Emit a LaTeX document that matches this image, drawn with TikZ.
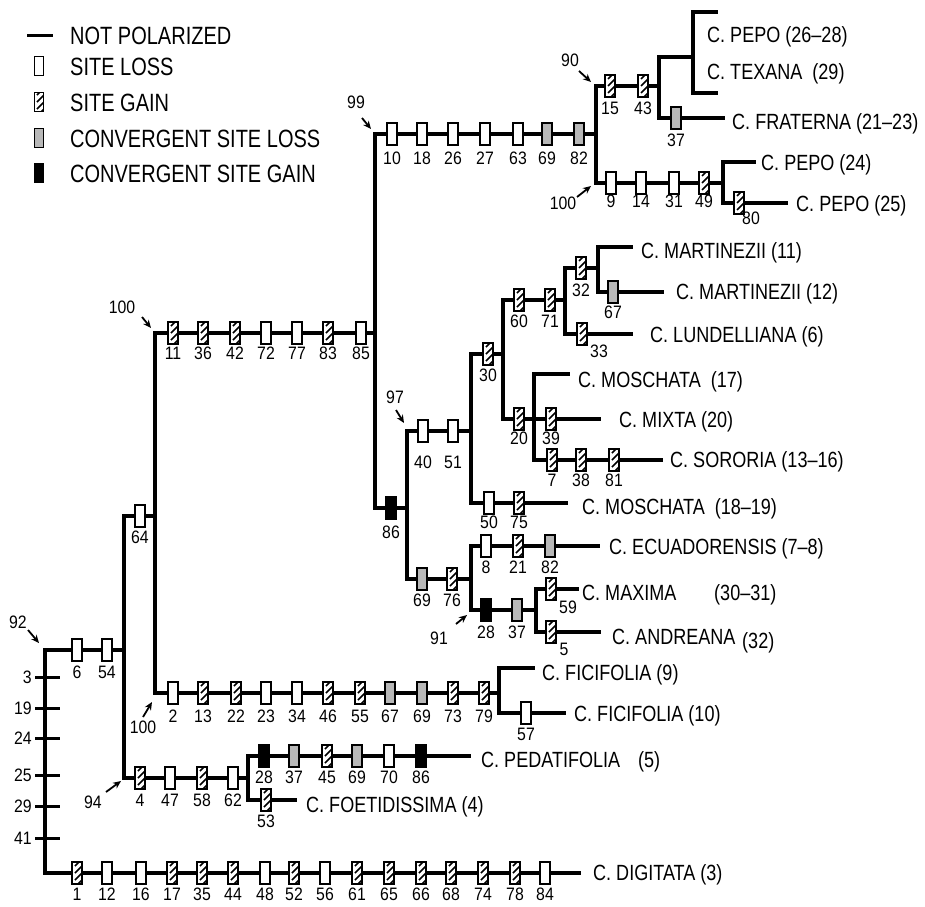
\documentclass[tikz,border=0pt]{standalone}
\usepackage{fontspec}
\setmainfont{Liberation Sans}
\newfontfamily\legfam{Liberation Sans}[FakeStretch=0.8]
\newfontfamily\taxfam{Liberation Sans}[FakeStretch=0.82]
\newfontfamily\numfam{Liberation Sans}[FakeStretch=0.88]
\newcommand\numf{\numfam\fontsize{18}{18}\selectfont}
\newcommand\taxf{\taxfam\fontsize{22}{22}\selectfont}
\newcommand\legf{\legfam\fontsize{25}{25}\selectfont}
\usetikzlibrary{arrows.meta}
\newcommand\mkbox[6]{\node[#1] (#2) at (#3,#4) {}; \node[num] (#2t) at (#3,#5) {#6};}
\begin{document}
\begin{tikzpicture}[x=1pt,y=-1pt,
  br/.style={line width=3.2pt,line cap=rect},
  bx/.style={draw,line width=1.3pt,minimum width=10pt,minimum height=22pt,inner sep=0pt,outer sep=0pt},
  loss/.style={bx,fill=white},
  gain/.style={bx,fill=white,path picture={\foreach \c in {0,7,...,42}\draw[line width=1.5pt,shift={(path picture bounding box.south west)}] (-2,14-\c) -- ++(24,-24);}},
  closs/.style={bx,fill=black!28},
  cgain/.style={bx,fill=black},
  lb/.style={minimum width=9pt,minimum height=19pt},
  num/.style={font=\numf,inner sep=0pt},
  tax/.style={font=\taxf,inner sep=0pt,anchor=base west},
  leg/.style={font=\legf,inner sep=0pt,anchor=base west},
  suparr/.style={-{Stealth[length=8pt,width=7pt]},line width=1.8pt}]
\useasboundingbox (0,0) rectangle (925,906);

% ---------- legend ----------
\coordinate (lg1) at (27,35); \coordinate (lg2) at (53,35);
\draw[line width=3pt] (lg1) -- (lg2);
\node[loss,lb] (lgb2) at (39,66) {};
\node[gain,lb] (lgb3) at (39,102) {};
\node[closs,lb] (lgb4) at (39,138) {};
\node[cgain,lb] (lgb5) at (39,173) {};
\node[leg] (lgt1) at (70,44) {NOT POLARIZED};
\node[leg] (lgt2) at (70,75) {SITE LOSS};
\node[leg] (lgt3) at (70,111) {SITE GAIN};
\node[leg] (lgt4) at (70,147) {CONVERGENT SITE LOSS};
\node[leg] (lgt5) at (70,182) {CONVERGENT SITE GAIN};

% ---------- branches ----------
\coordinate (r92) at (45,650); \coordinate (rbot) at (45,873); \coordinate (dige) at (579,873);
\draw[br] (r92) -- (rbot) -- (dige);
\coordinate (v1t) at (124,516); \coordinate (v1m) at (124,650); \coordinate (v1b) at (124,778);
\draw[br] (r92) -- (v1m); \draw[br] (v1t) -- (v1b);
\coordinate (v2t) at (155,333); \coordinate (v2m) at (155,516); \coordinate (v2b) at (155,693);
\draw[br] (v1t) -- (v2m); \draw[br] (v2t) -- (v2b);
\coordinate (v3t) at (248,756); \coordinate (v3m) at (248,778); \coordinate (v3b) at (248,800);
\draw[br] (v1b) -- (v3m); \draw[br] (v3t) -- (v3b);
\coordinate (pede) at (469,756); \draw[br] (v3t) -- (pede);
\coordinate (foee) at (295,800); \draw[br] (v3b) -- (foee);
\coordinate (v4t) at (499,668); \coordinate (v4m) at (499,693); \coordinate (v4b) at (499,713);
\draw[br] (v2b) -- (v4m); \draw[br] (v4t) -- (v4b);
\coordinate (f9e) at (533,668); \coordinate (f10e) at (564,713);
\draw[br] (v4t) -- (f9e); \draw[br] (v4b) -- (f10e);
\coordinate (v5t) at (375,134); \coordinate (v5m) at (375,333); \coordinate (v5b) at (375,508);
\draw[br] (v2t) -- (v5m); \draw[br] (v5t) -- (v5b);
\coordinate (v6t) at (407,431); \coordinate (v6m) at (407,508); \coordinate (v6b) at (407,579);
\draw[br] (v5b) -- (v6m); \draw[br] (v6t) -- (v6b);
\coordinate (v7t) at (596,86); \coordinate (v7m) at (596,134); \coordinate (v7b) at (596,183);
\draw[br] (v5t) -- (v7m); \draw[br] (v7t) -- (v7b);
\coordinate (v8t) at (659,57); \coordinate (v8m) at (659,86); \coordinate (v8b) at (659,118);
\draw[br] (v7t) -- (v8m); \draw[br] (v8t) -- (v8b);
\coordinate (v9t) at (693,12); \coordinate (v9m) at (693,57); \coordinate (v9b) at (693,93);
\draw[br] (v8t) -- (v9m); \draw[br] (v9t) -- (v9b);
\coordinate (pe1) at (716,12); \coordinate (pe2) at (716,93);
\draw[br] (v9t) -- (pe1); \draw[br] (v9b) -- (pe2);
\coordinate (frae) at (723,118); \draw[br] (v8b) -- (frae);
\coordinate (v10t) at (723,162); \coordinate (v10m) at (723,183); \coordinate (v10b) at (723,203);
\draw[br] (v7b) -- (v10m); \draw[br] (v10t) -- (v10b);
\coordinate (p24e) at (754,162); \coordinate (p25e) at (786,203);
\draw[br] (v10t) -- (p24e); \draw[br] (v10b) -- (p25e);
\coordinate (v11t) at (471,354); \coordinate (v11m) at (471,431); \coordinate (v11b) at (471,503);
\draw[br] (v6t) -- (v11m); \draw[br] (v11t) -- (v11b);
\coordinate (m1819e) at (566,503); \draw[br] (v11b) -- (m1819e);
\coordinate (v12t) at (503,300); \coordinate (v12m) at (503,354); \coordinate (v12b) at (503,419);
\draw[br] (v11t) -- (v12m); \draw[br] (v12t) -- (v12b);
\coordinate (v13t) at (565,268); \coordinate (v13m) at (565,300); \coordinate (v13b) at (565,334);
\draw[br] (v12t) -- (v13m); \draw[br] (v13t) -- (v13b);
\coordinate (lune) at (631,334); \draw[br] (v13b) -- (lune);
\coordinate (v14t) at (598,247); \coordinate (v14m) at (598,268); \coordinate (v14b) at (598,292);
\draw[br] (v13t) -- (v14m); \draw[br] (v14t) -- (v14b);
\coordinate (m11e) at (631,247); \coordinate (m12e) at (662,292);
\draw[br] (v14t) -- (m11e); \draw[br] (v14b) -- (m12e);
\coordinate (v15t) at (534,374); \coordinate (v15b) at (534,460); \coordinate (mixe) at (599,419);
\draw[br] (v12b) -- (mixe); \draw[br] (v15t) -- (v15b);
\coordinate (m17e) at (568,374); \coordinate (sore) at (661,460);
\draw[br] (v15t) -- (m17e); \draw[br] (v15b) -- (sore);
\coordinate (v16t) at (471,546); \coordinate (v16m) at (471,579); \coordinate (v16b) at (471,610);
\draw[br] (v6b) -- (v16m); \draw[br] (v16t) -- (v16b);
\coordinate (ecue) at (598,546); \draw[br] (v16t) -- (ecue);
\coordinate (v17t) at (536,589); \coordinate (v17m) at (536,610); \coordinate (v17b) at (536,632);
\draw[br] (v16b) -- (v17m); \draw[br] (v17t) -- (v17b);
\coordinate (maxe) at (577,589); \coordinate (ande) at (599,632);
\draw[br] (v17t) -- (maxe); \draw[br] (v17b) -- (ande);

% ---------- ticks on root ----------
\foreach \t/\y in {3/677,19/708,24/738,25/775,29/806,41/838}{
  \coordinate (tka\t) at (35,\y); \coordinate (tkb\t) at (60,\y);
  \draw[line width=3pt] (tka\t) -- (tkb\t);
  \node[num,anchor=east] (tkl\t) at (32,\y) {\t};}

% ---------- character boxes ----------
\mkbox{loss}{a1}{77}{650}{672}{6}
\mkbox{loss}{a2}{107}{650}{672}{54}
\mkbox{loss}{b1}{140}{516}{537}{64}
\mkbox{gain}{c1}{140}{778}{800}{4}
\mkbox{loss}{c2}{170}{778}{800}{47}
\mkbox{gain}{c3}{202}{778}{800}{58}
\mkbox{loss}{c4}{233}{778}{800}{62}
\mkbox{cgain}{d1}{264}{756}{777}{28}
\mkbox{closs}{d2}{294}{756}{777}{37}
\mkbox{gain}{d3}{327}{756}{777}{45}
\mkbox{closs}{d4}{357}{756}{777}{69}
\mkbox{loss}{d5}{389}{756}{777}{70}
\mkbox{cgain}{d6}{421}{756}{777}{86}
\mkbox{gain}{e1}{266}{800}{821}{53}
\mkbox{loss}{f1}{173}{693}{716}{2}
\mkbox{gain}{f2}{203}{693}{716}{13}
\mkbox{gain}{f3}{236}{693}{716}{22}
\mkbox{loss}{f4}{266}{693}{716}{23}
\mkbox{loss}{f5}{297}{693}{716}{34}
\mkbox{gain}{f6}{328}{693}{716}{46}
\mkbox{gain}{f7}{360}{693}{716}{55}
\mkbox{closs}{f8}{390}{693}{716}{67}
\mkbox{closs}{f9}{422}{693}{716}{69}
\mkbox{gain}{f10}{453}{693}{716}{73}
\mkbox{gain}{f11}{484}{693}{716}{79}
\mkbox{loss}{g1}{526}{713}{734}{57}
\mkbox{gain}{h1}{77}{873}{894}{1}
\mkbox{loss}{h2}{107}{873}{894}{12}
\mkbox{loss}{h3}{141}{873}{894}{16}
\mkbox{gain}{h4}{172}{873}{894}{17}
\mkbox{gain}{h5}{202}{873}{894}{35}
\mkbox{gain}{h6}{233}{873}{894}{44}
\mkbox{loss}{h7}{265}{873}{894}{48}
\mkbox{gain}{h8}{294}{873}{894}{52}
\mkbox{loss}{h9}{325}{873}{894}{56}
\mkbox{gain}{h10}{357}{873}{894}{61}
\mkbox{gain}{h11}{389}{873}{894}{65}
\mkbox{gain}{h12}{421}{873}{894}{66}
\mkbox{gain}{h13}{451}{873}{894}{68}
\mkbox{gain}{h14}{483}{873}{894}{74}
\mkbox{gain}{h15}{515}{873}{894}{78}
\mkbox{loss}{h16}{545}{873}{894}{84}
\mkbox{gain}{i1}{173}{333}{353}{11}
\mkbox{gain}{i2}{203}{333}{353}{36}
\mkbox{gain}{i3}{235}{333}{353}{42}
\mkbox{loss}{i4}{266}{333}{353}{72}
\mkbox{loss}{i5}{297}{333}{353}{77}
\mkbox{gain}{i6}{328}{333}{353}{83}
\mkbox{loss}{i7}{361}{333}{353}{85}
\mkbox{cgain}{j1}{391}{508}{532}{86}
\mkbox{loss}{k1}{392}{134}{158}{10}
\mkbox{loss}{k2}{422}{134}{158}{18}
\mkbox{loss}{k3}{453}{134}{158}{26}
\mkbox{loss}{k4}{485}{134}{158}{27}
\mkbox{loss}{k5}{518}{134}{158}{63}
\mkbox{closs}{k6}{547}{134}{158}{69}
\mkbox{closs}{k7}{579}{134}{158}{82}
\mkbox{gain}{l1}{610}{86}{108}{15}
\mkbox{gain}{l2}{643}{86}{108}{43}
\mkbox{closs}{l3}{676}{118}{140}{37}
\mkbox{loss}{m1}{611}{183}{201}{9}
\mkbox{loss}{m2}{641}{183}{201}{14}
\mkbox{loss}{m3}{674}{183}{201}{31}
\mkbox{gain}{m4}{704}{183}{201}{49}
\mkbox{gain}{m5}{739}{203}{218}{}
\node[num] (m5l) at (751,218) {80};
\mkbox{loss}{n1}{423}{431}{462}{40}
\mkbox{loss}{n2}{453}{431}{462}{51}
\mkbox{gain}{n3}{488}{354}{375}{30}
\mkbox{gain}{n4}{519}{300}{321}{60}
\mkbox{gain}{n5}{550}{300}{321}{71}
\mkbox{gain}{n6}{581}{268}{290}{32}
\mkbox{closs}{n7}{613}{292}{312}{67}
\mkbox{gain}{n8}{582}{334}{351}{}
\node[num] (n8l) at (599,351) {33};
\mkbox{gain}{o1}{519}{419}{438}{20}
\mkbox{gain}{o2}{551}{419}{438}{39}
\mkbox{gain}{o3}{552}{460}{480}{7}
\mkbox{gain}{o4}{581}{460}{480}{38}
\mkbox{gain}{o5}{614}{460}{480}{81}
\mkbox{loss}{o6}{489}{503}{522}{50}
\mkbox{gain}{o7}{519}{503}{522}{75}
\mkbox{loss}{p1}{486}{546}{567}{8}
\mkbox{gain}{p2}{518}{546}{567}{21}
\mkbox{closs}{p3}{550}{546}{567}{82}
\mkbox{closs}{p4}{422}{579}{600}{69}
\mkbox{gain}{p5}{452}{579}{600}{76}
\mkbox{cgain}{p6}{486}{610}{632}{28}
\mkbox{closs}{p7}{517}{610}{632}{37}
\mkbox{gain}{p8}{551}{589}{607}{}
\node[num] (p8l) at (568,607) {59};
\mkbox{gain}{p9}{551}{632}{649}{}
\node[num] (p9l) at (564,649) {5};

% ---------- support values ----------
\node[num] (s92) at (18,622) {92};
\coordinate (s92a) at (28,630); \coordinate (s92b) at (39,643); \draw[suparr] (s92a) -- (s92b);
\node[num] (s94) at (93,802) {94};
\coordinate (s94a) at (106,792); \coordinate (s94b) at (121,781); \draw[suparr] (s94a) -- (s94b);
\node[num] (s100a) at (143,727) {100};
\coordinate (s100aa) at (143,717); \coordinate (s100ab) at (152,702); \draw[suparr] (s100aa) -- (s100ab);
\node[num] (s100b) at (122,307) {100};
\coordinate (s100ba) at (142,317); \coordinate (s100bb) at (151,328); \draw[suparr] (s100ba) -- (s100bb);
\node[num] (s99) at (356,102) {99};
\coordinate (s99a) at (362,118); \coordinate (s99b) at (371,129); \draw[suparr] (s99a) -- (s99b);
\node[num] (s97) at (395,397) {97};
\coordinate (s97a) at (396,410); \coordinate (s97b) at (404,423); \draw[suparr] (s97a) -- (s97b);
\node[num] (s91) at (439,638) {91};
\coordinate (s91a) at (456,624); \coordinate (s91b) at (467,615); \draw[suparr] (s91a) -- (s91b);
\node[num] (s90) at (570,60) {90};
\coordinate (s90a) at (579,71); \coordinate (s90b) at (591,82); \draw[suparr] (s90a) -- (s90b);
\node[num] (s100c) at (563,203) {100};
\coordinate (s100ca) at (577,197); \coordinate (s100cb) at (591,186); \draw[suparr] (s100ca) -- (s100cb);

% ---------- taxa ----------
\node[tax] (t1) at (707,42.5) {C. PEPO (26–28)};
\node[tax] (t2) at (707,79.5) {C. TEXANA\ \ (29)};
\node[tax] (t3) at (732,129.5) {C. FRATERNA (21–23)};
\node[tax] (t4) at (761,170.5) {C. PEPO (24)};
\node[tax] (t5) at (796,211.5) {C. PEPO (25)};
\node[tax] (t6) at (641,258.5) {C. MARTINEZII (11)};
\node[tax] (t7) at (676,299.5) {C. MARTINEZII (12)};
\node[tax] (t8) at (650,342.5) {C. LUNDELLIANA (6)};
\node[tax] (t9) at (578,387.5) {C. MOSCHATA\ \ (17)};
\node[tax] (t10) at (619,427.5) {C. MIXTA (20)};
\node[tax] (t11) at (670,467.5) {C. SORORIA (13–16)};
\node[tax] (t12) at (582,514.5) {C. MOSCHATA\ \ (18–19)};
\node[tax] (t13) at (609,554.5) {C. ECUADORENSIS (7–8)};
\node[tax] (t14) at (582,600.5) {C. MAXIMA};
\node[tax] (t14b) at (714,600.5) {(30–31)};
\node[tax] (t15) at (612,644.5) {C. ANDREANA};
\node[tax] (t15b) at (742,648) {(32)};
\node[tax] (t16) at (542,680.5) {C. FICIFOLIA (9)};
\node[tax] (t17) at (574,721.5) {C. FICIFOLIA (10)};
\node[tax] (t18) at (481,767.5) {C. PEDATIFOLIA};
\node[tax] (t18b) at (638,767.5) {(5)};
\node[tax] (t19) at (306,812.5) {C. FOETIDISSIMA (4)};
\node[tax] (t20) at (593,880.5) {C. DIGITATA (3)};
\end{tikzpicture}
\end{document}
